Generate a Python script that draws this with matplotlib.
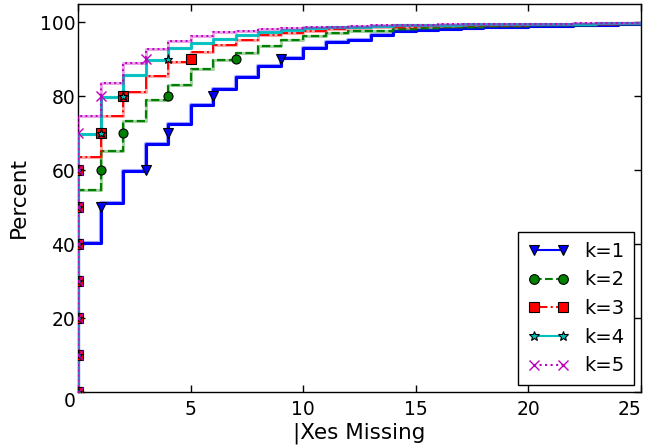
import matplotlib
matplotlib.use("Agg")
import matplotlib.pyplot as plt
from matplotlib.lines import Line2D
import numpy as np

# cumulative percent at x = 0..25 for each k
x_vals = list(range(0, 26))
k1 = [40.3, 51.1, 59.9, 67.2, 72.5, 77.8, 81.9, 85.2, 88.2, 90.5, 93.1, 94.6, 95.3,
      96.6, 97.6, 98.0, 98.3, 98.5, 98.7, 98.9, 99.0, 99.1, 99.2, 99.4, 99.6, 99.8]
k2 = [54.7, 65.3, 73.4, 79.1, 83.2, 87.3, 89.8, 91.8, 93.6, 95.3, 96.4, 97.1, 97.6,
      97.8, 98.3, 98.5, 98.7, 98.9, 99.0, 99.1, 99.2, 99.3, 99.4, 99.5, 99.6, 99.7]
k3 = [63.5, 74.6, 81.1, 85.6, 89.3, 92.0, 93.8, 95.2, 96.5, 97.2, 97.8, 98.2, 98.5,
      98.7, 98.9, 99.0, 99.1, 99.2, 99.3, 99.4, 99.5, 99.6, 99.6, 99.7, 99.8, 99.9]
k4 = [69.9, 79.8, 85.9, 89.8, 93.1, 94.5, 95.5, 96.7, 97.4, 97.9, 98.4, 98.7, 98.9,
      99.1, 99.2, 99.3, 99.4, 99.5, 99.5, 99.6, 99.6, 99.7, 99.7, 99.8, 99.8, 99.9]
k5 = [74.8, 83.7, 89.0, 92.8, 95.1, 96.3, 97.4, 97.8, 98.2, 98.5, 98.7, 98.9, 99.0,
      99.2, 99.3, 99.4, 99.5, 99.5, 99.6, 99.6, 99.7, 99.7, 99.8, 99.8, 99.9, 99.9]
series = [k1, k2, k3, k4, k5]
labels = ["k=1", "k=2", "k=3", "k=4", "k=5"]
levels = [0, 10, 20, 30, 40, 50, 60, 70, 80, 90]
xticks = [0, 5, 10, 15, 20, 25]
yticks = [0, 20, 40, 60, 80, 100]

colors = ["#0000ff", "#008000", "#ff0000", "#00bfbf", "#bf00bf"]
styles = ["-", "--", "-.", "-", ":"]
markers = ["v", "o", "s", "*", "x"]
halo_lw = [3.0, 2.2, 2.2, 2.4, 2.2]
line_lw = [2.2, 1.6, 1.4, 2.0, 1.4]

plt.rcParams["font.family"] = ["DejaVu Sans"]
fig = plt.figure(figsize=(6.46, 4.45), dpi=100)
ax = fig.add_axes([78 / 646, 53 / 445, 563 / 646, 388 / 445])

handles = []
for i, (vals, lab) in enumerate(zip(series, labels)):
    xs = np.array([x_vals[0]] + x_vals, dtype=float)
    ys = np.array([0.0] + vals)
    c = colors[i]
    ax.plot(xs, ys, drawstyle="steps-post", color=c, lw=halo_lw[i], alpha=0.35,
            solid_capstyle="butt", zorder=2 + i)
    ax.plot(xs, ys, drawstyle="steps-post", color=c, lw=line_lw[i], ls=styles[i],
            zorder=2 + i)
    v = np.array(vals)
    mx, my = [], []
    for lv in levels:
        idx = np.where(v >= lv)[0]
        if len(idx):
            mx.append(x_vals[idx[0]])
            my.append(lv)
    mec = c if markers[i] == "x" else "black"
    mk = ax.plot(mx, my, ls="none", marker=markers[i], ms=6.5, mfc=c, mec=mec,
                 mew=0.8 if markers[i] != "x" else 1.0, zorder=10 + i)[0]
    mk.set_clip_path(ax.patch)
    handles.append(Line2D([], [], color=c, ls=styles[i], lw=1.5, marker=markers[i],
                          ms=7, mfc=c, mec=mec, mew=0.8 if markers[i] != "x" else 1.0))

ax.set_xlim(0, 25)
ax.set_ylim(0, 105)
ax.set_xticks(xticks)
ax.set_yticks(yticks)
ax.tick_params(direction="in", top=True, right=True, length=5, width=1,
               labelsize=13.5)
ax.tick_params(axis="x", pad=6)
ax.tick_params(axis="y", pad=2)
for s in ax.spines.values():
    s.set_linewidth(1.0)
ax.set_xlabel("|Xes Missing", fontsize=15.5, labelpad=2)
ax.set_ylabel("Percent", fontsize=15.5, labelpad=8)

xl = ax.get_xticklabels()
xl[0].set_visible(False)
xl[-1].set_horizontalalignment("right")
yl = ax.get_yticklabels()
yl[0].set_verticalalignment("top")

leg = ax.legend(handles, labels, loc="lower right", numpoints=2, fontsize=14,
                fancybox=False, framealpha=1, edgecolor="black",
                handlelength=2.1, borderaxespad=0.35, labelspacing=0.5,
                handletextpad=0.8, borderpad=0.5)
leg.get_frame().set_linewidth(1.0)

fig.savefig("out.png", dpi=100, facecolor="white")
